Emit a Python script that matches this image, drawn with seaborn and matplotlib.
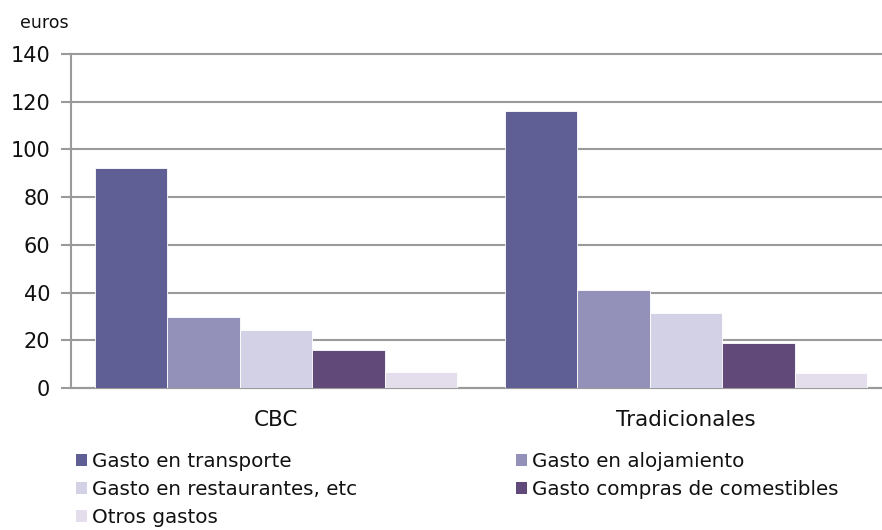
import matplotlib
matplotlib.use("Agg")
import matplotlib.pyplot as plt
from matplotlib.patches import Patch
import seaborn as sns
import pandas as pd

categories = ["CBC", "Tradicionales"]
series = [
    "Gasto en transporte",
    "Gasto en alojamiento",
    "Gasto en restaurantes, etc",
    "Gasto compras de comestibles",
    "Otros gastos",
]
transporte = [92.1, 116.2]
alojamiento = [29.9, 41.1]
restaurantes = [24.3, 31.3]
comestibles = [15.9, 18.7]
otros = [6.8, 6.4]
colors = ["#5F5F96", "#9390BA", "#D3D1E6", "#614A7A", "#E4DEEC"]
yticks = [0, 20, 40, 60, 80, 100, 120, 140]

values = [transporte, alojamiento, restaurantes, comestibles, otros]
rows = []
for name, vals in zip(series, values):
    for cat, v in zip(categories, vals):
        rows.append({"categoria": cat, "serie": name, "valor": v})
df = pd.DataFrame(rows)

sns.set_theme(style="white")
plt.rcParams["font.family"] = ["DejaVu Sans"]

fig = plt.figure(figsize=(8.82, 5.30), dpi=100)
ax = fig.add_axes([0.0805, 0.268, 0.9297, 0.630])

sns.barplot(data=df, x="categoria", y="valor", hue="serie", order=categories,
            hue_order=series, palette=colors, saturation=1, width=0.885, gap=0,
            edgecolor="white", linewidth=0.6, ax=ax, legend=False, zorder=3)

grid_color = "#9a9a9a"
ax.set_ylim(0, 140)
ax.set_yticks(yticks)
ax.set_yticklabels([str(t) for t in yticks], fontsize=15, color="#111111")
ax.yaxis.grid(True, color=grid_color, linewidth=1.5, zorder=0)
for gl in ax.get_ygridlines():
    gl.set_clip_on(False)
ax.set_axisbelow(True)
ax.tick_params(axis="y", which="major", left=True, length=7, width=1.5,
               color=grid_color, pad=8)
ax.tick_params(axis="x", bottom=False, labelsize=15.5, pad=10,
               labelcolor="#111111")
ax.set_xlabel("")
ax.set_ylabel("")
for side in ["top", "right"]:
    ax.spines[side].set_visible(False)
for side in ["left", "bottom"]:
    ax.spines[side].set_color(grid_color)
    ax.spines[side].set_linewidth(1.5)

fig.text(0.023, 0.957, "euros", fontsize=12.5, color="#111111",
         ha="left", va="center")

order = [0, 2, 4, 1, 3]
handles = [Patch(facecolor=colors[i], edgecolor="none") for i in order]
labels = [series[i] for i in order]
leg = fig.legend(handles, labels, ncol=2, loc="upper left",
                 bbox_to_anchor=(0.086, 0.147), frameon=False, fontsize=14.3,
                 handlelength=0.55, handleheight=0.55, handletextpad=0.25,
                 columnspacing=8.0, labelspacing=0.44, borderaxespad=0,
                 borderpad=0)
for t in leg.get_texts():
    t.set_color("#111111")

fig.savefig("out.png", dpi=100)
